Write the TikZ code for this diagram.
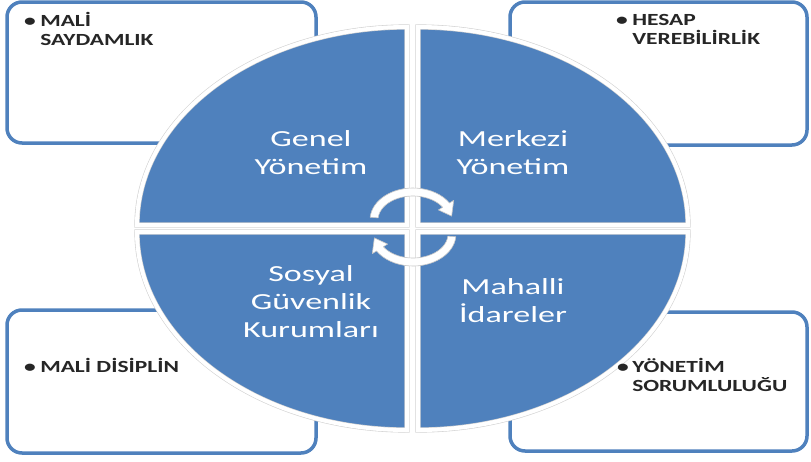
\documentclass[tikz,border=0pt]{standalone}
\usepackage{fontspec}
\setmainfont{Carlito}
\usetikzlibrary{calc}
\definecolor{segblue}{HTML}{4F81BD}
\definecolor{itemgray}{HTML}{262626}

\begin{document}
\begin{tikzpicture}[x=1pt,y=1pt,
  panel/.style={draw=segblue, line width=3.5pt, fill=white, rounded corners=15pt},
  segment/.style={fill=segblue, draw=gray!35, double=white, double distance=4pt, line width=0.6pt},
  segtext/.style={text=white, align=center, font=\fontsize{23}{28}\selectfont, xscale=1.48},
  itemtext/.style={text=itemgray, align=left, font=\bfseries\fontsize{17}{19}\selectfont, xscale=1.38},
  cyclearrow/.style={fill=white, draw=gray!45, line width=0.6pt, line join=round}]
\tikzstyle{every node}+=[inner sep=0pt]
\useasboundingbox (0,0) rectangle (811,-461);

% corner panels
\draw [panel] (7,-2) rectangle (316,-143);
\draw [panel] (510,-2) rectangle (807,-145);
\draw [panel] (7,-310) rectangle (316,-453);
\draw [panel] (510,-312) rectangle (807,-451);

% four segments of the disc
\draw [segment] (407,-225) -- ++(-270,0) arc[start angle=180, end angle=90, x radius=270, y radius=198] -- cycle;
\draw [segment] (418,-225) -- ++(0,198) arc[start angle=90, end angle=0, x radius=270, y radius=198] -- cycle;
\draw [segment] (407,-232) -- ++(-270,0) arc[start angle=180, end angle=270, x radius=270, y radius=198] -- cycle;
\draw [segment] (418,-232) -- ++(270,0) arc[start angle=0, end angle=-90, x radius=270, y radius=198] -- cycle;

% segment labels
\node [segtext] (genel) at (311,-152.5) {Genel\\Yönetim};
\node [segtext] (merkezi) at (513,-152.5) {Merkezi\\Yönetim};
\node [segtext] (sosyal) at (311,-302) {Sosyal\\Güvenlik\\Kurumları};
\node [segtext] (mahalli) at (513,-300.5) {Mahalli\\İdareler};

% cycle arrows
\coordinate (topc) at (413,-220);
\coordinate (botc) at (413,-234);
\draw [cyclearrow] ($(topc)+(175:43 and 32)$) arc[start angle=175, end angle=32, x radius=43, y radius=32]
  -- ($(topc)+(32:48 and 37)$) -- ($(topc)+(8:39 and 28)$) -- ($(topc)+(32:30 and 19)$)
  -- ($(topc)+(32:35 and 24)$) arc[start angle=32, end angle=175, x radius=35, y radius=24] -- cycle;
\draw [cyclearrow] ($(botc)+(-5:43 and 32)$) arc[start angle=-5, end angle=-148, x radius=43, y radius=32]
  -- ($(botc)+(-148:48 and 37)$) -- ($(botc)+(-172:39 and 28)$) -- ($(botc)+(-148:30 and 19)$)
  -- ($(botc)+(-148:35 and 24)$) arc[start angle=-148, end angle=-5, x radius=35, y radius=24] -- cycle;

% panel items (multi-line nodes sit on their last baseline)
\node [itemtext, anchor=base] (maliDot) at (30,-26) {\textbullet};
\node [itemtext, anchor=base west] (maliText) at (40,-45) {MALİ\\SAYDAMLIK};
\node [itemtext, anchor=base] (hesapDot) at (622,-25) {\textbullet};
\node [itemtext, anchor=base west] (hesapText) at (632,-44) {HESAP\\VEREBİLİRLİK};
\node [itemtext, anchor=base] (disiplinDot) at (30,-372) {\textbullet};
\node [itemtext, anchor=base west] (disiplinText) at (40,-372) {MALİ DİSİPLİN};
\node [itemtext, anchor=base] (yonetimDot) at (623,-372) {\textbullet};
\node [itemtext, anchor=base west] (yonetimText) at (632,-391) {YÖNETİM\\SORUMLULUĞU};
\end{tikzpicture}
\end{document}
